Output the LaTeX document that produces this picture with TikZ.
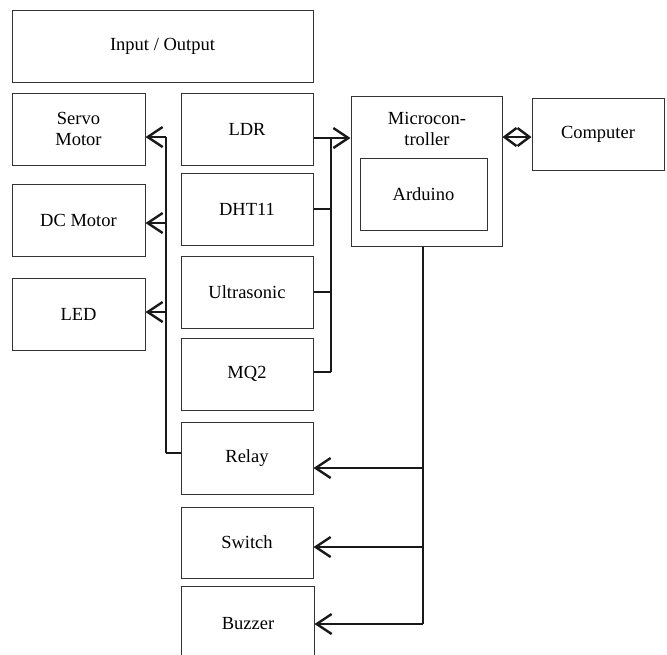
\documentclass[tikz,border=0pt]{standalone}
\usepackage{fontspec}
\setmainfont{Liberation Serif}
\usetikzlibrary{arrows.meta,calc}
\begin{document}
\begin{tikzpicture}[x=1pt,y=-1pt,
  box/.style={draw=black!80,line width=1pt,inner sep=0pt,align=center,minimum height=72pt,minimum width=132pt},
  conn/.style={line width=2.6pt,black!90},
  arr/.style={-{Straight Barb[length=15pt,width=20pt,line width=2.4pt]}},
  font=\rmfamily\fontsize{18.5}{21.5}\selectfont]
\useasboundingbox (0,0) rectangle (667,654);
\fill[white] (0,0) rectangle (667,654);
% boxes
\node[box,minimum width=301pt] (io) at (162.5,46) {Input / Output};
\node[box,minimum width=133pt] (servo) at (78.5,129) {Servo\\Motor};
\node[box,minimum width=133pt] (dc) at (78.5,220) {DC Motor};
\node[box,minimum width=133pt] (led) at (78.5,314) {LED};
\node[box] (ldr) at (247,129) {LDR};
\node[box] (dht) at (247,209) {DHT11};
\node[box] (ultra) at (247,292) {Ultrasonic};
\node[box] (mq) at (247,374) {MQ2};
\node[box] (relay) at (247,458) {Relay};
\node[box,minimum height=71pt] (switch) at (247,542.5) {Switch};
\node[box,draw=none,minimum height=74pt] (buzzer) at (248,624) {Buzzer};
\draw[draw=black!80,line width=1pt] (buzzer.south west) -- (buzzer.north west) -- (buzzer.north east) -- (buzzer.south east);
\node[box,minimum width=151pt,minimum height=150pt] (micro) at (426.5,171) {};
\node[inner sep=0pt,align=center] (mtext) at (427,129) {Microcon-\\troller};
\node[box,minimum width=127pt] (ard) at (423.5,194) {Arduino};
\node[box] (comp) at (598,134) {Computer};
% left bus (outputs driven from relay)
\coordinate (lbtop) at (166,137);
\coordinate (lbbot) at (166,453);
\draw[conn,line width=1.8pt] (relay.west |- lbbot) -- (lbbot);
\draw[conn] (lbbot) -- (lbtop);
\draw[conn,arr] (lbtop) -- (servo.east |- lbtop);
\draw[conn,arr] (166,223) -- (dc.east |- 0,223);
\draw[conn,arr] (166,312) -- (led.east |- 0,312);
% right bus (sensors to microcontroller)
\coordinate (rbtop) at (331,138);
\coordinate (rbbot) at (331,372);
\draw[conn] (ldr.east |- rbtop) -- (rbtop);
\draw[conn] (dht.east) -- (dht.east -| rbtop);
\draw[conn] (ultra.east) -- (ultra.east -| rbtop);
\draw[conn] (mq.east |- rbbot) -- (rbbot);
\draw[conn] (rbtop) -- (rbbot);
\draw[conn,arr] (rbtop) -- (micro.west |- rbtop);
% microcontroller <-> computer
\draw[conn,{Straight Barb[length=12pt,width=18pt,line width=2.4pt]}-{Straight Barb[length=12pt,width=18pt,line width=2.4pt]}] (micro.east |- 0,137) -- (comp.west |- 0,137);
% microcontroller bus to actuators
\coordinate (mb) at (423,624);
\draw[conn] (micro.south -| mb) -- (mb);
\draw[conn,arr] (423,468) -- (relay.east |- 0,468);
\draw[conn,arr] (423,547) -- (switch.east |- 0,547);
\draw[conn,arr] (mb) -- (buzzer.east |- mb);
\end{tikzpicture}
\end{document}
